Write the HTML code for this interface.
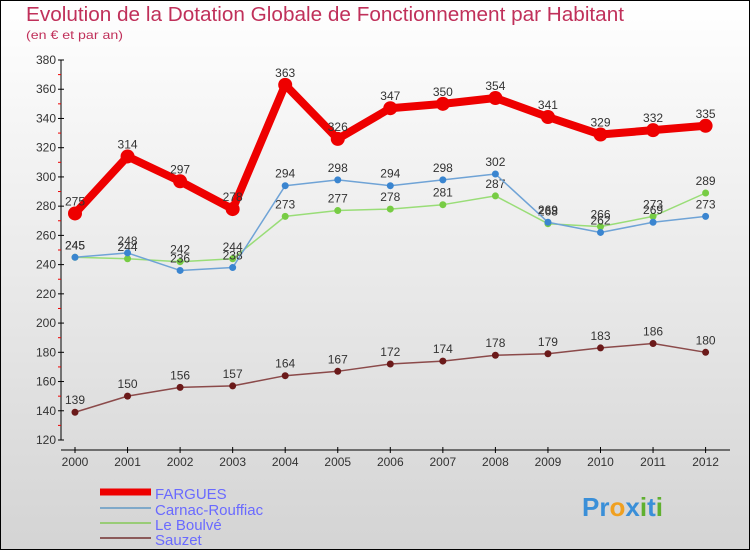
<!DOCTYPE html>
<html><head><meta charset="utf-8"><style>
body{margin:0}
#c{width:750px;height:550px;position:relative;overflow:hidden}
svg{font-family:"Liberation Sans",sans-serif}
</style></head><body>
<div id="c">
<svg id="s" width="750" height="550" xmlns="http://www.w3.org/2000/svg">
<defs><linearGradient id="bg" x1="0" y1="0" x2="0" y2="1"><stop offset="0" stop-color="#ffffff"/><stop offset="1" stop-color="#d4d4d4"/></linearGradient></defs>
<rect x="0.5" y="0.5" width="749" height="549" fill="url(#bg)" stroke="#000"/>
<text x="26" y="21" font-size="20" fill="#c0305a" textLength="598" lengthAdjust="spacingAndGlyphs">Evolution de la Dotation Globale de Fonctionnement par Habitant</text>
<text x="26" y="39" font-size="12" fill="#c0305a" textLength="97" lengthAdjust="spacingAndGlyphs">(en € et par an)</text>
<g id="axes"></g><g id="series"></g>
<g>
<line x1="100" y1="492" x2="151" y2="492" stroke="#e00" stroke-width="7"/><text x="155" y="499" font-size="15" fill="#6a6aff">FARGUES</text>
<line x1="100" y1="508" x2="151" y2="508" stroke="#7fa9c9" stroke-width="2"/><text x="155" y="515" font-size="15" fill="#6a6aff">Carnac-Rouffiac</text>
<line x1="100" y1="523" x2="151" y2="523" stroke="#99cc77" stroke-width="2"/><text x="155" y="530" font-size="15" fill="#6a6aff">Le Boulvé</text>
<line x1="100" y1="538" x2="151" y2="538" stroke="#8b5a5a" stroke-width="2"/><text x="155" y="545" font-size="15" fill="#6a6aff">Sauzet</text>
</g>
<text x="582" y="516" font-size="26" font-weight="bold"><tspan fill="#3a8fd8">Pr</tspan><tspan fill="#f0a020">o</tspan><tspan fill="#3a8fd8">x</tspan><tspan fill="#60b030">i</tspan><tspan fill="#3a8fd8">t</tspan><tspan fill="#60b030">i</tspan></text>
</svg></div>
<script>
const years=[2000,2001,2002,2003,2004,2005,2006,2007,2008,2009,2010,2011,2012];
const yTicks=[120,140,160,180,200,220,240,260,280,300,320,340,360,380];
const fargues=[275,314,297,278,363,326,347,350,354,341,329,332,335];
const carnac=[245,248,236,238,294,298,294,298,302,269,262,269,273];
const boulve=[245,244,242,244,273,277,278,281,287,268,266,273,289];
const sauzet=[139,150,156,157,164,167,172,174,178,179,183,186,180];
const NS="http://www.w3.org/2000/svg";
const X=i=>75+i*52.55, Y=v=>440-(v-120)*380/260;
function mk(t,a,p){const e=document.createElementNS(NS,t);for(const k in a)e.setAttribute(k,a[k]);p.appendChild(e);return e;}
const ax=document.getElementById('axes');
const yl=mk('line',{x1:61,y1:60,x2:61,y2:440,stroke:'#000'},ax);


const xl=mk('line',{x1:61,y1:450,x2:730,y2:450,stroke:'#000'},ax);


yTicks.forEach((v,i)=>{mk('line',{x1:58,y1:Y(v),x2:64,y2:Y(v),stroke:'#000'},ax);
 if(i<yTicks.length-1)mk('line',{x1:58,y1:Y(v+10),x2:61,y2:Y(v+10),stroke:'#e00'},ax);
 const t=mk('text',{x:56,y:Y(v)+4,'font-size':12,'text-anchor':'end',fill:'#333'},ax);t.textContent=v;
 
 });
years.forEach((y,i)=>{mk('line',{x1:X(i),y1:447,x2:X(i),y2:453,stroke:'#000'},ax);
 const t=mk('text',{x:X(i),y:466,'font-size':12,'text-anchor':'middle',fill:'#333'},ax);t.textContent=y;
 
 });
const sg=document.getElementById('series');
function draw(data,col,w,r,name,dot){
 const p=mk('polyline',{points:data.map((v,i)=>X(i)+','+Y(v)).join(' '),fill:'none',stroke:col,'stroke-width':w,'stroke-linejoin':'round'},sg);
 
 
 data.forEach((v,i)=>{const c=mk('circle',{cx:X(i),cy:Y(v),r:r,fill:dot},sg);
  
  
  const t=mk('text',{x:X(i),y:Y(v)-8,'font-size':12,'text-anchor':'middle',fill:'#333'},sg);t.textContent=v;
  
  });
}
draw(sauzet,'#8b4a4a',1.5,3.5,'sauzet','#6b1a1a');
draw(boulve,'#99dd77',1.5,3.5,'boulve','#77cc44');
draw(carnac,'#6fa3d6',1.5,3.5,'carnac','#3a85d0');
draw(fargues,'#e00',8,7,'fargues','#e00');
</script>
</body></html>
